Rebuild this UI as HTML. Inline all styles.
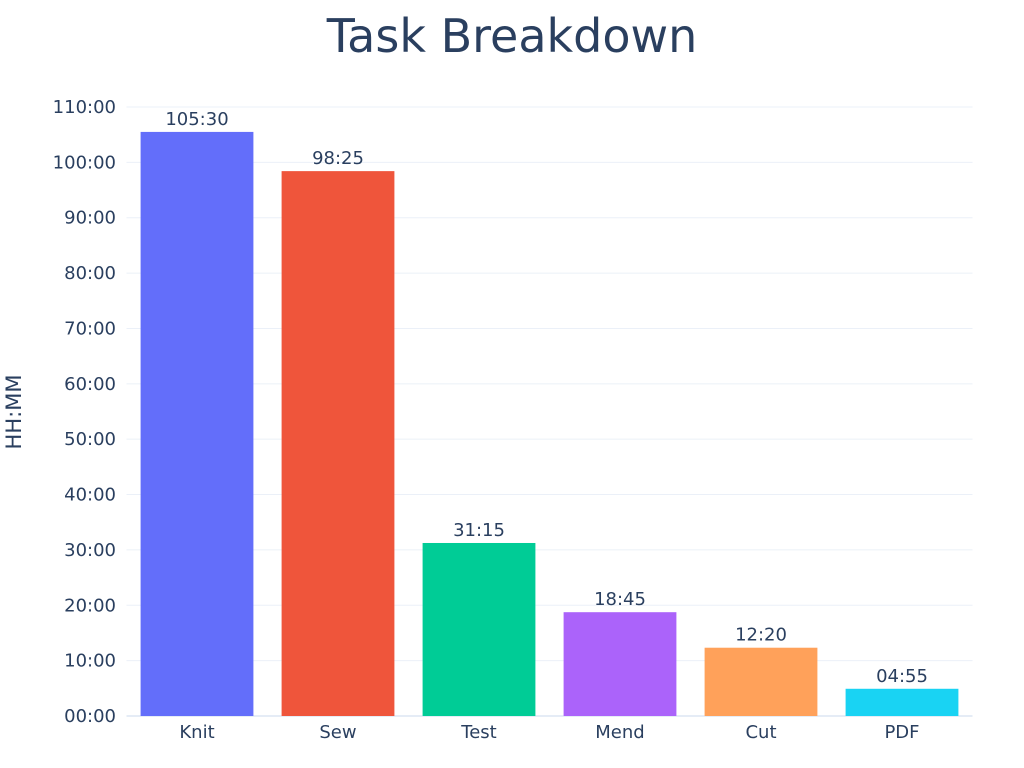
<!DOCTYPE html>
<html><head><meta charset="utf-8"><style>
html,body{margin:0;padding:0;background:#fff;}
svg{display:block;font-family:"DejaVu Sans","Liberation Sans",sans-serif;}
</style></head><body>
<svg id="chart" width="1024" height="768">
<text x="512" y="52" text-anchor="middle" font-size="46" fill="#2a3f5f">Task Breakdown</text>
<text transform="translate(21,412) rotate(-90)" text-anchor="middle" font-size="21" fill="#2a3f5f">HH:MM</text>
<g id="grid"></g><g id="bars"></g><g id="labels"></g>
</svg>
<script>
const categories=["Knit","Sew","Test","Mend","Cut","PDF"];
const minutes=[6330,5905,1875,1125,740,295];
const colors=["#636efa","#EF553B","#00cc96","#ab63fa","#FFA15A","#19d3f3"];
const yTicks=[0,600,1200,1800,2400,3000,3600,4200,4800,5400,6000,6600];
const NS="http://www.w3.org/2000/svg";
const x0=126.5,x1=972.5,y0=716,yTop=107,yMax=6600;
const y=v=>y0-(v/yMax)*(y0-yTop);
const step=(x1-x0)/categories.length;
const xc=i=>x0+step*(i+0.5);
const fmt=m=>String(Math.floor(m/60)).padStart(2,'0')+":"+String(m%60).padStart(2,'0');
function mk(tag,attrs,parent){const e=document.createElementNS(NS,tag);for(const k in attrs)e.setAttribute(k,attrs[k]);parent.appendChild(e);return e;}
const grid=document.getElementById('grid'),bars=document.getElementById('bars'),labels=document.getElementById('labels');
yTicks.forEach(t=>{
const l=mk('line',{x1:x0,x2:x1,y1:y(t),y2:y(t),stroke:t===0?'#e5ecf6':'#ebf0f8','stroke-width':t===0?2:1},grid);


const tx=mk('text',{x:116,y:y(t)+6,'text-anchor':'end','font-size':18,fill:'#2a3f5f'},grid);
tx.textContent=fmt(t);


});
categories.forEach((c,i)=>{
const w=step*0.8;
const r=mk('rect',{x:xc(i)-w/2,y:y(minutes[i]),width:w,height:y0-y(minutes[i]),fill:colors[i]},bars);


const v=mk('text',{x:xc(i),y:y(minutes[i])-7,'text-anchor':'middle','font-size':18,fill:'#2a3f5f'},labels);
v.textContent=fmt(minutes[i]);


const xl=mk('text',{x:xc(i),y:738,'text-anchor':'middle','font-size':18,fill:'#2a3f5f'},labels);
xl.textContent=c;


});
</script>
</body></html>
